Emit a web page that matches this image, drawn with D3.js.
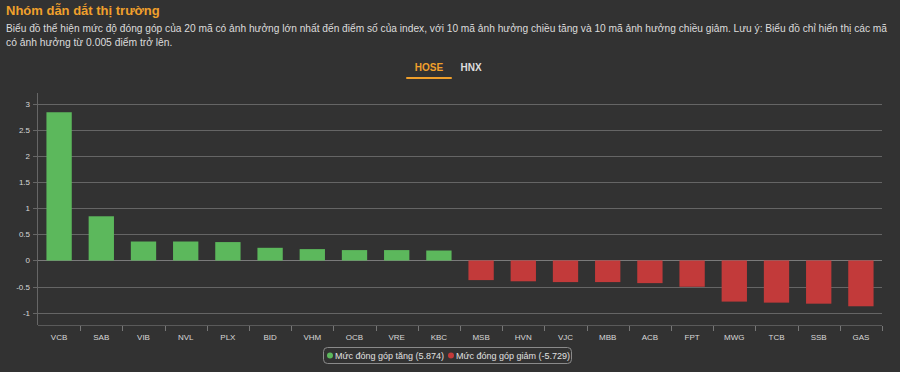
<!DOCTYPE html>
<html>
<head>
<meta charset="utf-8">
<style>
  body {
    margin: 0;
    background-color: #323232;
    font-family: "Liberation Sans", Arial, sans-serif;
    overflow: hidden;
  }
  svg {
    position: absolute;
    top: 0;
    left: 0;
  }
  text {
    font-family: "Liberation Sans", Arial, sans-serif;
  }
</style>
</head>
<body>
<script src="https://d3js.org/d3.v7.min.js"></script>
<script>

var width = 900,
    height = 372;

// data
var codes = ["VCB", "SAB", "VIB", "NVL", "PLX", "BID", "VHM", "OCB", "VRE", "KBC",
             "MSB", "HVN", "VJC", "MBB", "ACB", "FPT", "MWG", "TCB", "SSB", "GAS"];
var values = [2.85, 0.85, 0.365, 0.365, 0.354, 0.244, 0.219, 0.2, 0.2, 0.192,
              -0.377, -0.40, -0.415, -0.415, -0.435, -0.505, -0.79, -0.81, -0.83, -0.88];
var yTicks = [-1, -0.5, 0, 0.5, 1, 1.5, 2, 2.5, 3];
var tabs = ["HOSE", "HNX"];
var legendItems = ["Mức đóng góp tăng (5.874)", "Mức đóng góp giảm (-5.729)"];

var title = "Nhóm dẫn dắt thị trường";
var descLines = [
  "Biểu đồ thể hiện mức độ đóng góp của 20 mã có ảnh hưởng lớn nhất đến điểm số của index, với 10 mã ảnh hưởng chiều tăng và 10 mã ảnh hưởng chiều giảm. Lưu ý: Biểu đồ chỉ hiển thị các mã",
  "có ảnh hưởng từ 0.005 điểm trở lên."
];

var green = "#5cb85c",
    red = "#c23a3a",
    orange = "#f0a02c";

var svg = d3.select("body").append("svg")
    .attr("width", width)
    .attr("height", height);

// heading
svg.append("text")
    .attr("x", 6)
    .attr("y", 15)
    .style("font-size", "13px")
    .style("font-weight", "bold")
    .style("fill", orange)
    .text(title);

svg.selectAll(".desc")
    .data(descLines)
    .enter()
    .append("text")
    .attr("class", "desc")
    .attr("x", 6)
    .attr("y", function(d, i) { return 32 + i * 14; })
    .style("font-size", "10.3px")
    .style("fill", "#dcdcdc")
    .text(function(d) { return d; })
    .each(function(d, i) {
      // keep the long first line inside the page like the reference
      if (i == 0 && this.getComputedTextLength() > 881) {
        d3.select(this).attr("textLength", 881).attr("lengthAdjust", "spacingAndGlyphs");
      }
    });

// tabs
var tabX = d3.scaleOrdinal().domain(tabs).range([429, 471]);
svg.selectAll(".tab")
    .data(tabs)
    .enter()
    .append("text")
    .attr("class", "tab")
    .attr("x", function(d) { return tabX(d); })
    .attr("y", 71)
    .attr("text-anchor", "middle")
    .style("font-size", "10px")
    .style("font-weight", "bold")
    .style("fill", function(d, i) { return i == 0 ? orange : "#dedede"; })
    .text(function(d) { return d; });

svg.append("rect")
    .attr("x", 406)
    .attr("y", 77)
    .attr("width", 46)
    .attr("height", 2)
    .attr("rx", 1)
    .attr("fill", orange);

// chart
var plot = {left: 38, right: 882, top: 93, bottom: 325};

var x = d3.scaleBand()
    .domain(codes)
    .range([plot.left, plot.right])
    .paddingInner(0.4)
    .paddingOuter(0.2);

var xb = d3.scaleBand()
    .domain(codes)
    .range([plot.left, plot.right]);

var y = d3.scaleLinear()
    .domain([-1.24, 3.22])
    .range([plot.bottom, plot.top]);

// gridlines
svg.append("g")
    .selectAll("line")
    .data(yTicks)
    .enter()
    .append("line")
    .attr("x1", plot.left)
    .attr("x2", plot.right)
    .attr("y1", function(d) { return Math.round(y(d)) + 0.5; })
    .attr("y2", function(d) { return Math.round(y(d)) + 0.5; })
    .attr("stroke", function(d) { return d == 0 ? "#7a7a7a" : "#656565"; })
    .attr("stroke-width", 1);

// y axis labels
svg.append("g")
    .selectAll("text")
    .data(yTicks)
    .enter()
    .append("text")
    .attr("x", 30)
    .attr("y", function(d) { return y(d) + 3; })
    .attr("text-anchor", "end")
    .style("font-size", "8px")
    .style("fill", "#d8d8d8")
    .text(function(d) { return d; });

// y axis line and tiny ticks
svg.append("line")
    .attr("x1", plot.left - 0.5).attr("x2", plot.left - 0.5)
    .attr("y1", plot.top).attr("y2", plot.bottom)
    .attr("stroke", "#666");

svg.append("g")
    .selectAll("line")
    .data(yTicks)
    .enter()
    .append("line")
    .attr("x1", 33).attr("x2", 37)
    .attr("y1", function(d) { return Math.round(y(d)) + 0.5; })
    .attr("y2", function(d) { return Math.round(y(d)) + 0.5; })
    .attr("stroke", "#666");

// x axis line
svg.append("line")
    .attr("x1", plot.left).attr("x2", plot.right)
    .attr("y1", plot.bottom + 0.5).attr("y2", plot.bottom + 0.5)
    .attr("stroke", "#5a5a5a");

// x ticks between categories
svg.append("g")
    .selectAll("line")
    .data(codes)
    .enter()
    .append("line")
    .attr("x1", function(d) { return Math.round(xb(d) + xb.bandwidth()) + 0.5; })
    .attr("x2", function(d) { return Math.round(xb(d) + xb.bandwidth()) + 0.5; })
    .attr("y1", plot.bottom + 1)
    .attr("y2", plot.bottom + 6)
    .attr("stroke", "#777");

// bars
svg.append("g")
    .selectAll("rect")
    .data(values)
    .enter()
    .append("rect")
    .attr("x", function(d, i) { return x(codes[i]); })
    .attr("width", x.bandwidth())
    .attr("y", function(d) { return d >= 0 ? y(d) : y(0); })
    .attr("height", function(d) { return Math.abs(y(d) - y(0)); })
    .attr("fill", function(d) { return d >= 0 ? green : red; });

// x labels
svg.append("g")
    .selectAll("text")
    .data(codes)
    .enter()
    .append("text")
    .attr("x", function(d) { return x(d) + x.bandwidth() / 2; })
    .attr("y", 340)
    .attr("text-anchor", "middle")
    .style("font-size", "8px")
    .style("fill", "#d8d8d8")
    .text(function(d) { return d; });

// legend
svg.append("rect")
    .attr("x", 323.5)
    .attr("y", 347.5)
    .attr("width", 248)
    .attr("height", 16)
    .attr("rx", 4)
    .attr("fill", "none")
    .attr("stroke", "#8a8a8a");

var legendX = d3.scaleOrdinal().domain(legendItems).range([330, 451]);
var lg = svg.selectAll(".legend")
    .data(legendItems)
    .enter()
    .append("g")
    .attr("class", "legend")
    .attr("transform", function(d) { return "translate(" + legendX(d) + ",355.5)"; });

lg.append("circle")
    .attr("r", 3)
    .attr("fill", function(d, i) { return i == 0 ? green : red; });

lg.append("text")
    .attr("x", 5)
    .attr("y", 3)
    .style("font-size", "9px")
    .style("fill", "#e0e0e0")
    .text(function(d) { return d; });

</script>
</body>
</html>
